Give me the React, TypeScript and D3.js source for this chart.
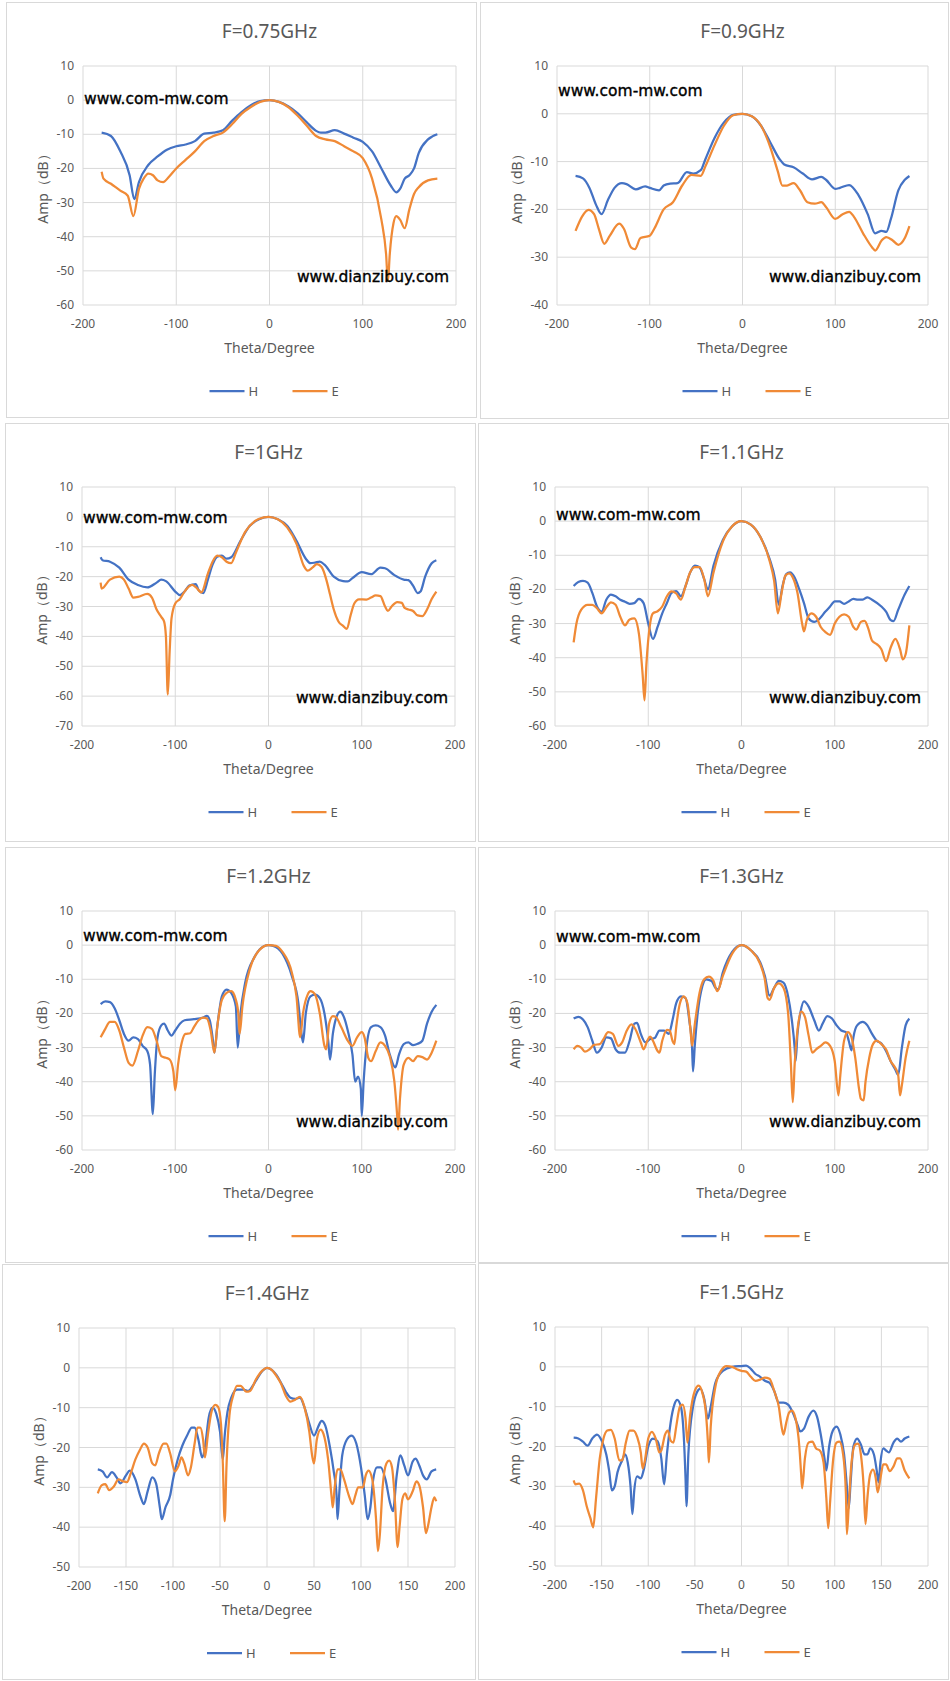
// @ts-nocheck
import React from 'react'
import * as d3 from 'd3'

const BLUE = '#4472C4'
const ORANGE = '#F08A36'
const GRID = '#D9D9D9'
const TXT = '#595959'

// [theta, amp dB]
const h075 = [[-180,-9.5],[-170,-10.5],[-160,-15],[-150,-22],[-145,-29],[-140,-24],[-130,-19],[-120,-16.5],[-110,-14.5],[-100,-13.5],[-90,-13],[-80,-12],[-70,-9.8],[-60,-9.5],[-50,-8.8],[-40,-6],[-30,-3.5],[-20,-1.5],[-10,-0.3],[0,0],[10,-0.5],[20,-1.8],[30,-3.8],[40,-6.5],[50,-9],[55,-9.5],[60,-9.5],[70,-8.8],[80,-9.8],[90,-11],[100,-12.2],[110,-15],[120,-20],[130,-25],[136,-27],[140,-26],[145,-23],[150,-22],[155,-20],[160,-15.5],[170,-11.5],[180,-10]]
const e075 = [[-180,-21],[-178,-23],[-170,-24.5],[-160,-26.5],[-152,-28],[-146,-34],[-140,-26],[-135,-23],[-130,-21.5],[-125,-22],[-120,-23.5],[-114,-24],[-108,-22.5],[-100,-20],[-90,-17.5],[-80,-15],[-70,-12],[-60,-10.5],[-50,-9.5],[-40,-7],[-30,-4],[-20,-2],[-10,-0.5],[0,0],[10,-0.5],[20,-2],[30,-4.5],[40,-7.5],[50,-10.5],[60,-11.5],[70,-12],[80,-13.5],[90,-15],[100,-17],[110,-23],[120,-35],[125,-45],[127,-53],[129,-45],[133,-36],[136,-34],[140,-35],[145,-37.5],[150,-32],[155,-27.5],[160,-25.5],[170,-23.5],[180,-23]]

const h09 = [[-180,-13],[-172,-13.5],[-165,-15.5],[-158,-19],[-152,-21],[-145,-18],[-138,-15.5],[-130,-14.5],[-125,-14.7],[-115,-15.8],[-105,-15.2],[-100,-15.5],[-90,-16],[-85,-15],[-78,-14.6],[-70,-14.5],[-60,-12.2],[-53,-12.5],[-45,-11.8],[-40,-9.5],[-30,-5],[-20,-1.8],[-10,-0.2],[0,0],[10,-0.5],[20,-2.5],[30,-6],[40,-9.5],[45,-10.6],[55,-11.2],[65,-12.5],[75,-13.7],[85,-13.2],[90,-13.8],[100,-15.7],[105,-15.5],[115,-14.9],[125,-17],[135,-21],[143,-25],[150,-24.5],[155,-24.7],[160,-22],[168,-16],[175,-13.8],[180,-13]]
const e09 = [[-180,-24.5],[-173,-21.5],[-166,-20.1],[-160,-21],[-155,-24],[-149,-27.2],[-143,-25.5],[-133,-23],[-128,-24],[-120,-28],[-116,-28.3],[-110,-26],[-100,-25.5],[-95,-24],[-85,-20],[-75,-18.5],[-65,-15],[-55,-12.8],[-45,-13],[-40,-11],[-30,-6.5],[-20,-2.5],[-10,-0.3],[0,0],[10,-0.5],[20,-2.5],[30,-7],[38,-12],[43,-15],[48,-15],[55,-14.5],[62,-16],[70,-18.5],[78,-18.8],[85,-18.5],[90,-19.5],[100,-22],[108,-21],[115,-20.5],[120,-21.5],[130,-25],[140,-28],[143,-28.6],[150,-26.5],[155,-25.8],[162,-26.5],[168,-27.4],[175,-26],[180,-23.5]]

const h10 = [[-180,-13.5],[-178,-14.5],[-170,-15],[-160,-17],[-150,-21],[-140,-22.8],[-130,-23.6],[-120,-22],[-115,-21],[-110,-21.5],[-100,-25],[-95,-26.2],[-90,-25],[-85,-23],[-78,-22.5],[-75,-24.5],[-70,-25.5],[-65,-21],[-60,-16],[-55,-13.3],[-50,-13],[-45,-14],[-40,-13.5],[-30,-8],[-20,-3],[-10,-0.8],[0,0],[10,-0.8],[20,-3],[30,-8],[40,-14],[45,-15.5],[50,-15.3],[55,-15],[60,-16],[70,-20],[80,-21.5],[85,-21.6],[90,-20.5],[100,-18.5],[110,-19.2],[120,-17],[125,-17.2],[135,-19.5],[145,-21],[150,-21.2],[155,-23],[160,-25.5],[163,-25],[168,-20],[175,-15.5],[180,-14.5]]
const e10 = [[-180,-22],[-179,-24],[-170,-21],[-160,-20],[-155,-21],[-150,-24],[-145,-27],[-140,-26.8],[-130,-25.8],[-125,-27],[-120,-31],[-115,-33.5],[-112,-35],[-110,-40],[-108,-59.5],[-106,-45],[-104,-34],[-100,-29],[-95,-27.5],[-90,-25],[-82,-22.8],[-78,-23.5],[-72,-25.3],[-65,-19],[-60,-15],[-55,-13],[-50,-13.5],[-45,-15],[-40,-15.5],[-35,-12],[-25,-5],[-15,-1.5],[-5,-0.2],[0,0],[10,-0.8],[20,-3.5],[30,-9],[38,-16.5],[42,-18],[47,-17],[52,-15.8],[57,-16.8],[62,-21],[66,-26],[70,-31],[75,-35],[80,-36.5],[84,-37.5],[88,-33],[92,-29],[97,-27.6],[105,-27.7],[110,-27],[115,-26.3],[120,-26.5],[125,-30],[128,-31.5],[132,-30],[138,-28.5],[143,-28.8],[146,-30.5],[150,-31],[155,-31.5],[160,-33],[165,-33.2],[170,-31],[175,-27.5],[180,-25]]

const h11 = [[-180,-19],[-175,-17.8],[-170,-17.5],[-165,-18],[-160,-21],[-155,-25],[-150,-26.5],[-145,-23],[-140,-21.5],[-135,-22],[-130,-23],[-125,-23.6],[-120,-24.2],[-115,-24],[-110,-22.8],[-105,-24],[-100,-30],[-95,-34.5],[-90,-31],[-85,-27],[-80,-24],[-75,-21],[-70,-20.5],[-65,-22],[-60,-19],[-55,-15],[-50,-13],[-45,-13.5],[-40,-17],[-36,-20],[-30,-13],[-20,-5.5],[-10,-1.5],[0,0],[10,-1],[20,-4.5],[30,-11],[36,-17],[40,-24.5],[44,-19],[48,-15.5],[52,-15],[57,-16.5],[62,-20],[67,-24],[72,-28.5],[78,-29.5],[82,-29],[90,-26.5],[95,-25],[100,-23.5],[105,-23.5],[110,-24.2],[115,-23.5],[120,-22.8],[125,-23],[130,-23],[135,-22.3],[140,-23],[150,-25],[155,-26.5],[160,-29],[163,-29.3],[168,-26],[175,-21.5],[180,-19]]
const e11 = [[-180,-35.5],[-177,-30],[-172,-26],[-165,-24.5],[-160,-24.5],[-155,-25.5],[-150,-27],[-145,-25.2],[-140,-23.8],[-135,-24.5],[-130,-28],[-125,-30.5],[-120,-28.8],[-115,-28.5],[-110,-33],[-106,-45],[-104,-52.5],[-102,-42],[-98,-30],[-95,-27],[-90,-26.4],[-85,-25],[-80,-22],[-75,-20.6],[-70,-21.2],[-65,-23],[-60,-19],[-55,-15],[-50,-13.5],[-45,-13.5],[-40,-17],[-36,-22],[-30,-15],[-20,-6],[-10,-1.5],[0,0],[10,-1],[20,-4.5],[30,-11.5],[35,-17.5],[39,-27],[43,-21],[47,-16],[51,-15.3],[55,-16.5],[60,-21],[65,-30],[67,-32.3],[70,-29],[75,-27],[80,-28],[85,-31],[90,-32.5],[95,-33.3],[100,-30],[105,-28],[110,-27.3],[115,-28],[120,-31],[123,-31.8],[128,-29.5],[132,-29.2],[136,-31.5],[140,-35],[145,-36],[150,-37.5],[155,-41],[160,-37],[165,-34.5],[170,-37.5],[173,-40.5],[176,-39],[180,-30.5]]

const h12 = [[-180,-17.3],[-175,-16.5],[-170,-16.7],[-165,-18.5],[-160,-22],[-155,-26],[-150,-28],[-145,-27],[-140,-27.5],[-135,-29.5],[-130,-31],[-127,-35],[-124,-49.5],[-122,-38],[-119,-27],[-115,-23.5],[-112,-23],[-108,-25],[-104,-26.5],[-100,-25],[-95,-23],[-90,-22],[-80,-21.7],[-70,-21.2],[-66,-20.7],[-63,-22],[-60,-27],[-58,-31.5],[-55,-24],[-50,-15],[-45,-13],[-40,-14],[-35,-18],[-33,-30],[-30,-20],[-25,-11],[-15,-3.5],[-5,-0.3],[0,0],[5,-0.2],[15,-2.5],[25,-9],[32,-17],[35,-25],[37,-28.5],[40,-20],[45,-15],[50,-14.5],[55,-15.5],[60,-20],[64,-28],[66,-33.5],[69,-26],[73,-21],[77,-19.5],[80,-20.5],[85,-25],[90,-32],[93,-40],[96,-38.5],[99,-42],[100,-50],[102,-40],[105,-30],[110,-24],[115,-23.5],[120,-24],[125,-26.5],[130,-32],[136,-35.8],[140,-32],[145,-29],[150,-28.5],[155,-29.3],[160,-28.9],[165,-28],[170,-23],[175,-19.5],[180,-17.5]]
const e12 = [[-180,-27],[-175,-24.5],[-170,-22.5],[-165,-22.5],[-160,-25],[-155,-30],[-150,-34.5],[-146,-35.3],[-140,-31],[-135,-26.5],[-130,-24],[-125,-24.5],[-120,-28],[-115,-32.5],[-110,-33],[-106,-33.5],[-102,-37],[-100,-42.5],[-97,-35],[-93,-28.5],[-89,-26],[-84,-25.8],[-80,-24],[-75,-22],[-70,-21.2],[-66,-21.5],[-62,-25],[-58,-31.5],[-55,-24],[-50,-16],[-45,-14],[-40,-13.5],[-35,-16],[-32,-21],[-31,-26],[-28,-18],[-20,-7],[-10,-1.5],[0,0],[8,-0.2],[15,-2],[25,-8],[30,-15],[34,-27],[37,-20],[42,-14.5],[45,-13.5],[50,-14.5],[55,-20],[60,-29.5],[62,-30.5],[65,-23],[69,-20.8],[72,-21],[78,-24],[85,-28],[90,-29.5],[95,-27],[100,-25.5],[103,-27],[107,-33],[110,-34],[115,-31],[120,-28.5],[125,-29.5],[130,-32.5],[135,-40],[138,-50],[139,-54],[141,-45],[145,-35],[150,-33],[155,-34],[160,-32.5],[165,-32.8],[170,-33.5],[175,-31.5],[180,-28]]

const h13 = [[-180,-21.5],[-175,-21],[-170,-21.8],[-165,-24],[-160,-28],[-155,-31.5],[-150,-30],[-145,-27],[-140,-27.3],[-135,-30.5],[-130,-31.5],[-125,-31.5],[-120,-28],[-115,-23],[-112,-22.8],[-108,-26],[-103,-28.5],[-98,-27.5],[-93,-27.2],[-88,-25],[-83,-25],[-78,-26],[-74,-22],[-70,-17],[-65,-15],[-60,-15.5],[-56,-22],[-53,-30],[-52,-37],[-50,-29],[-47,-20],[-42,-12],[-38,-10],[-32,-10.5],[-28,-12.5],[-25,-13],[-20,-8],[-10,-2],[0,0],[10,-1.5],[20,-5],[25,-9],[30,-14.8],[35,-12.5],[40,-10.5],[45,-11],[50,-15],[54,-22],[57,-30],[58,-34],[60,-26],[63,-20],[67,-16.5],[72,-18],[78,-22],[83,-25],[87,-23],[92,-20.8],[97,-21.5],[102,-23.5],[107,-25],[112,-25.5],[115,-28],[118,-30.8],[120,-27],[124,-23.5],[130,-22.5],[135,-23.5],[140,-26],[145,-28],[150,-28.8],[155,-31],[160,-34],[165,-36.5],[168,-38],[172,-30],[176,-23.5],[180,-21.5]]
const e13 = [[-180,-30.5],[-176,-29.5],[-172,-30],[-168,-31.2],[-163,-30.5],[-158,-29.2],[-152,-29],[-148,-27.5],[-143,-25.5],[-138,-26],[-132,-29.5],[-128,-28.5],[-123,-25],[-118,-23.2],[-114,-24.5],[-108,-28.5],[-105,-30.5],[-101,-28],[-98,-26.8],[-95,-28],[-90,-31],[-88,-31.5],[-85,-28],[-80,-24.8],[-77,-25],[-74,-28],[-72,-29],[-70,-24],[-66,-17],[-62,-15],[-58,-17],[-55,-24],[-53,-29.5],[-50,-23],[-45,-14],[-40,-10],[-35,-9.2],[-30,-10.5],[-26,-13.5],[-20,-9],[-10,-2.5],[0,0],[10,-1.5],[20,-5.5],[25,-10],[28,-15.5],[30,-16],[35,-12.5],[40,-11.2],[45,-12.5],[50,-20],[53,-35],[55,-46],[57,-35],[60,-25],[64,-19.5],[68,-21],[72,-26.5],[76,-31.5],[80,-30.5],[85,-29.5],[90,-28.5],[95,-29.5],[100,-34],[104,-44],[106,-38],[110,-28],[114,-25.5],[118,-27],[122,-33],[126,-42],[128,-45],[131,-45.5],[133,-40],[137,-33],[141,-29],[145,-28],[150,-29],[155,-30.5],[160,-34],[165,-36],[168,-38],[170,-44],[172,-41],[176,-33],[180,-28]]

const h14 = [[-180,-25.5],[-175,-26],[-170,-27.5],[-165,-26.2],[-160,-27.5],[-156,-29],[-150,-27],[-146,-25.8],[-140,-28],[-135,-32],[-131,-34.2],[-127,-31],[-122,-27.5],[-118,-29],[-114,-35],[-112,-38],[-108,-35],[-103,-32],[-100,-28],[-95,-23],[-90,-19.5],[-85,-17],[-80,-15],[-77,-15],[-73,-18],[-69,-22.5],[-66,-20],[-62,-12.5],[-58,-10],[-54,-11.5],[-50,-16],[-47,-23],[-45,-17],[-42,-11],[-38,-7.5],[-32,-5.5],[-25,-5.5],[-20,-5.8],[-15,-4.5],[-10,-2.5],[-5,-0.8],[0,0],[5,-0.5],[10,-1.8],[15,-3.8],[20,-6],[25,-7.5],[30,-7.8],[35,-7.5],[40,-10],[45,-14],[50,-17],[55,-14.5],[58,-13.3],[62,-14.5],[67,-20],[71,-26],[74,-32],[75,-38],[77,-31],[80,-22],[85,-18],[90,-17],[95,-19],[100,-25],[104,-32],[107,-38],[110,-35],[113,-28],[117,-25],[121,-25],[126,-28],[131,-34],[134,-36],[138,-27],[142,-22],[146,-24.5],[150,-27],[155,-23.5],[158,-22.8],[162,-24.5],[166,-27],[170,-28],[175,-26],[180,-25.5]]
const e14 = [[-180,-31.5],[-176,-29.5],[-172,-29.2],[-168,-30.7],[-163,-29.8],[-158,-28],[-153,-28.5],[-149,-28.7],[-145,-26.5],[-140,-23],[-135,-20.5],[-131,-19],[-127,-20],[-122,-24],[-119,-24.5],[-115,-21.5],[-110,-19],[-107,-19],[-103,-21.5],[-98,-26],[-94,-24.5],[-91,-22.5],[-88,-24],[-84,-27],[-81,-25],[-77,-19],[-74,-15],[-71,-15],[-68,-18],[-66,-22.5],[-63,-17],[-59,-11],[-55,-9.3],[-52,-9.8],[-49,-14],[-47,-24],[-45,-38.5],[-43,-24],[-40,-12],[-36,-7],[-32,-4.5],[-28,-4.5],[-22,-6],[-18,-5.8],[-12,-3],[-5,-0.7],[0,0],[5,-0.5],[10,-2],[15,-4],[20,-7],[25,-8.5],[30,-8],[35,-7.3],[40,-10],[45,-16],[48,-22],[50,-24],[53,-18],[57,-15.5],[60,-16.5],[65,-23],[69,-33],[70,-35],[72,-30],[75,-25.5],[78,-25.5],[82,-28],[87,-32],[91,-34.2],[94,-32],[97,-30],[102,-30],[105,-27],[108,-25.8],[112,-28],[116,-38],[118,-46],[120,-42],[123,-30],[127,-24],[130,-23.3],[133,-25],[136,-33],[139,-45],[141,-40],[144,-33],[147,-31.5],[150,-33],[155,-31],[159,-28.5],[162,-29.5],[166,-35],[169,-41.5],[171,-40],[175,-35],[178,-32.5],[180,-33.5]]

const h15 = [[-180,-17.8],[-175,-18],[-170,-18.8],[-165,-19.8],[-160,-18],[-155,-17],[-150,-18.5],[-145,-22],[-142,-26],[-139,-31],[-136,-30],[-133,-26.5],[-128,-23.5],[-125,-22],[-122,-24],[-119,-30],[-117,-37],[-115,-31],[-112,-27.5],[-108,-28],[-105,-26],[-100,-20],[-95,-18],[-90,-18.7],[-86,-23],[-83,-29.5],[-80,-22],[-76,-14],[-72,-9.5],[-69,-8.3],[-65,-10],[-62,-17],[-60,-28],[-59,-35],[-57,-22],[-52,-10],[-48,-6.5],[-44,-5.5],[-40,-8],[-36,-13],[-33,-10],[-28,-4],[-20,-1],[-10,0],[0,0.2],[5,0.3],[10,-0.5],[15,-1.8],[20,-2.5],[25,-3.5],[30,-4],[35,-6],[40,-9],[45,-9],[50,-9.5],[55,-11.5],[60,-14.5],[63,-16.2],[67,-15.5],[72,-12.5],[77,-11],[81,-12.5],[85,-17],[89,-23],[91,-26],[94,-20],[98,-16],[102,-15],[106,-17],[110,-22],[113,-30],[115,-35.5],[117,-29],[120,-20],[124,-18],[128,-19.5],[132,-22],[135,-22],[138,-20.5],[142,-22],[145,-26],[147,-29],[149,-24],[152,-20.5],[155,-21],[158,-21.5],[163,-19],[167,-18],[171,-18.8],[175,-18],[180,-17.5]]
const e15 = [[-180,-28.5],[-178,-29.5],[-174,-29.3],[-170,-31],[-166,-35],[-162,-38],[-159,-40.3],[-156,-33],[-152,-23],[-148,-18],[-144,-16],[-140,-15.8],[-136,-18],[-131,-23.5],[-128,-23.5],[-124,-19],[-120,-16],[-116,-16],[-112,-17.5],[-108,-21.5],[-106,-25.5],[-104,-24],[-100,-18],[-96,-16.3],[-92,-18],[-88,-21.5],[-86,-21],[-82,-17],[-79,-16],[-76,-18.5],[-73,-19],[-70,-15],[-66,-10],[-63,-9.5],[-60,-13],[-58,-19],[-55,-12],[-50,-6],[-46,-4.7],[-42,-6.5],[-38,-12],[-36,-19],[-35,-24],[-33,-15],[-28,-5],[-22,-1],[-16,0.2],[-10,0],[-5,-0.6],[0,-1],[5,-1.2],[10,-2.5],[15,-3.5],[20,-3.2],[25,-2.7],[30,-3],[35,-6],[40,-10],[43,-15],[45,-17],[48,-14],[51,-11.5],[54,-11],[58,-13],[62,-20],[64,-27],[65,-30.5],[68,-23],[72,-19],[76,-18.8],[80,-20.5],[84,-21],[88,-24],[91,-33],[93,-40.5],[95,-34],[98,-24],[102,-19],[105,-18.8],[109,-22],[112,-32],[113,-42],[115,-35],[118,-24],[122,-19.5],[125,-19.3],[128,-22],[131,-30],[133,-39.5],[135,-33],[138,-27],[141,-25.8],[144,-28],[146,-31.5],[149,-28],[152,-24.5],[155,-24.5],[159,-26.2],[163,-25],[167,-23],[170,-23],[175,-26],[180,-28]]

const titles = ['F=0.75GHz', 'F=0.9GHz', 'F=1GHz', 'F=1.1GHz', 'F=1.2GHz', 'F=1.3GHz', 'F=1.4GHz', 'F=1.5GHz']
const hSeries = [h075, h09, h10, h11, h12, h13, h14, h15]
const eSeries = [e075, e09, e10, e11, e12, e13, e14, e15]
const yMins = [-60, -40, -70, -60, -60, -60, -50, -50]
const xSteps = [100, 100, 100, 100, 100, 100, 50, 50]
const marked = [true, true, true, true, true, true, false, false]

const boxes = [
  { x: 6, y: 2, w: 470, h: 415 },
  { x: 480, y: 2, w: 468, h: 416 },
  { x: 5, y: 423, w: 470, h: 418 },
  { x: 478, y: 423, w: 470, h: 418 },
  { x: 5, y: 847, w: 470, h: 415 },
  { x: 478, y: 847, w: 470, h: 415 },
  { x: 2, y: 1264, w: 473, h: 415 },
  { x: 478, y: 1263, w: 470, h: 416 },
]
const markTop = [33, 25, 31, 28, 25, 26]

const Panel = ({ i }) => {
  const b = boxes[i]
  const left = b.x + 77
  const right = b.x + b.w - 20
  const top = b.y + 64
  const bottom = b.y + 303
  const x = d3.scaleLinear().domain([-200, 200]).range([left, right])
  const y = d3.scaleLinear().domain([yMins[i], 10]).range([bottom, top])
  const xt = d3.range(-200, 201, xSteps[i])
  const yt = d3.range(yMins[i], 11, 10)
  const line = d3.line().x((d) => x(d[0])).y((d) => y(d[1])).curve(d3.curveMonotoneX)
  const cx = (left + right) / 2
  const cy = (top + bottom) / 2
  return (
    <g fontFamily="'Noto Sans', sans-serif">
      <rect x={b.x + 0.5} y={b.y + 0.5} width={b.w} height={b.h} fill="#fff" stroke={GRID} />
      <text x={cx} y={b.y + 36} textAnchor="middle" fontSize="19" fill={TXT}>{titles[i]}</text>
      {yt.map((t) => (
        <g key={'y' + t}>
          <line x1={left} x2={right} y1={y(t)} y2={y(t)} stroke={GRID} />
          <text x={left - 9} y={y(t) + 4} textAnchor="end" fontSize="12" fill={TXT}>{t}</text>
        </g>
      ))}
      {xt.map((t) => (
        <g key={'x' + t}>
          <line x1={x(t)} x2={x(t)} y1={top} y2={bottom} stroke={GRID} />
          <text x={x(t)} y={bottom + 23} textAnchor="middle" fontSize="12" fill={TXT}>{t}</text>
        </g>
      ))}
      <text x={cx} y={bottom + 48} textAnchor="middle" fontSize="14" fill={TXT}>Theta/Degree</text>
      <text transform={`translate(${b.x + 42},${cy}) rotate(-90)`} textAnchor="middle" fontSize="14" fill={TXT}>Amp（dB）</text>
      <path d={line(hSeries[i])} fill="none" stroke={BLUE} strokeWidth="2.25" />
      <path d={line(eSeries[i])} fill="none" stroke={ORANGE} strokeWidth="2.25" />
      {marked[i] && (
        <g fontFamily="'DejaVu Sans', sans-serif" fontSize="15.5" fill="#000" stroke="#000" strokeWidth="0.35">
          <text x={left + 1} y={top + markTop[i] + 5}>www.com-mw.com</text>
          <text x={right - 7} y={bottom - 23} textAnchor="end">www.dianzibuy.com</text>
        </g>
      )}
      <line x1={cx - 60} x2={cx - 25} y1={bottom + 86} y2={bottom + 86} stroke={BLUE} strokeWidth="2.25" />
      <text x={cx - 21} y={bottom + 91} fontSize="13" fill={TXT}>H</text>
      <line x1={cx + 23} x2={cx + 58} y1={bottom + 86} y2={bottom + 86} stroke={ORANGE} strokeWidth="2.25" />
      <text x={cx + 62} y={bottom + 91} fontSize="13" fill={TXT}>E</text>
    </g>
  )
}

export default function App() {
  return (
    <svg width={950} height={1681} style={{ position: 'absolute', left: 0, top: 0, background: '#fff' }}>
      {titles.map((t, i) => (
        <Panel key={t} i={i} />
      ))}
    </svg>
  )
}
